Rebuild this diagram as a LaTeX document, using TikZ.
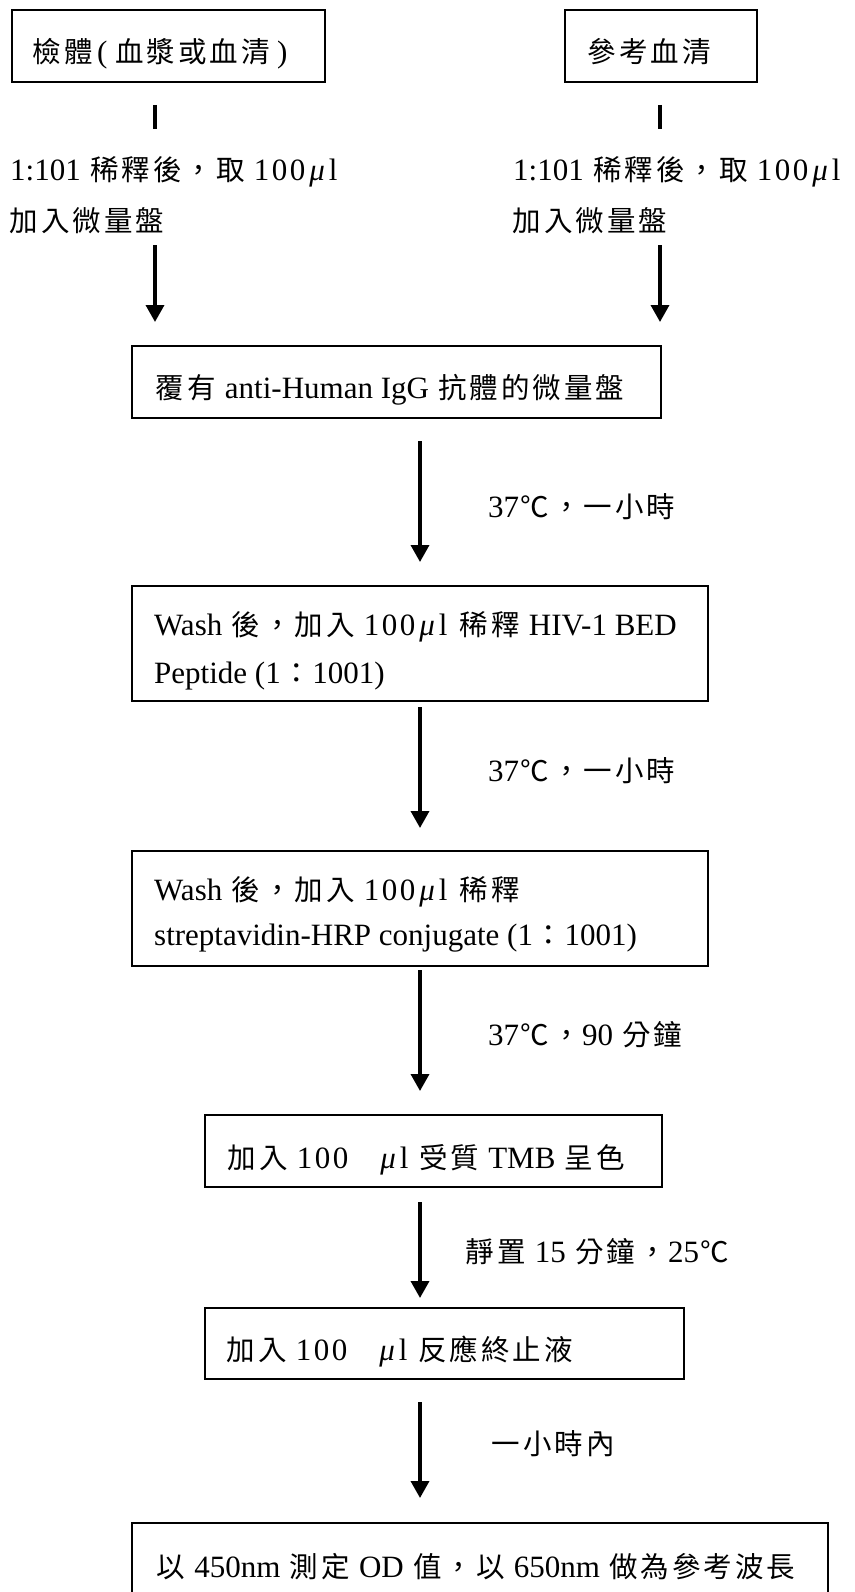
\documentclass[tikz,border=0pt]{standalone}
\usepackage{fontspec}
\setmainfont{Liberation Serif}
\newfontfamily\cjk{Noto Sans CJK TC}
\usetikzlibrary{arrows.meta}
\newcommand{\Cloop}[1]{\ifx#1\relax\else\kern1.5pt#1\kern1.5pt\expandafter\Cloop\fi}
\newcommand{\C}[1]{{\cjk\fontsize{28.5}{40}\selectfont\Cloop#1\relax}}
\newcommand{\myul}{\kern4pt\textit{μ}\kern4pt l\kern3pt}
\newcommand{\hund}{1\kern2.5pt0\kern2.5pt0}
\begin{document}
\begin{tikzpicture}[x=1pt,y=-1pt,
  box/.style={draw,line width=1.6pt,inner sep=0pt,outer sep=0pt,anchor=north west},
  txt/.style={anchor=base west,inner sep=0pt,font=\fontsize{31}{40}\selectfont},
  arr/.style={line width=3.5pt,-{Triangle[width=18pt,length=17pt]}},
  stem/.style={line width=3.5pt}]
\useasboundingbox (0,0) rectangle (854,1592);
\clip (0,0) rectangle (854,1592);
% boxes
\node[box,minimum width=313pt,minimum height=72pt] (b1) at (12,10) {};
\node[box,minimum width=192pt,minimum height=72pt] (b2) at (565,10) {};
\node[box,minimum width=529pt,minimum height=72pt] (b3) at (132,346) {};
\node[box,minimum width=576pt,minimum height=115pt] (b4) at (132,586) {};
\node[box,minimum width=576pt,minimum height=115pt] (b5) at (132,851) {};
\node[box,minimum width=457pt,minimum height=72pt] (b6) at (205,1115) {};
\node[box,minimum width=479pt,minimum height=71pt] (b7) at (205,1308) {};
\node[box,minimum width=696pt,minimum height=110pt] (b8) at (132,1523) {};
% texts
\node[txt] (t1) at (31,63) {\C{檢體}\kern3pt(\kern6pt\C{血漿或血清}\kern6pt)};
\node[txt] (t2) at (586,63) {\C{參考血清}};
\node[txt] (t3a) at (10,180) {1:101 \C{稀釋後，取} \hund\myul};
\node[txt] (t3b) at (8,231) {\C{加入微量盤}};
\node[txt] (t4a) at (513,180) {1:101 \C{稀釋後，取} \hund\myul};
\node[txt] (t4b) at (511,231) {\C{加入微量盤}};
\node[txt] (t5) at (154,398) {\C{覆有} anti-Human IgG \C{抗體的微量盤}};
\node[txt] (t6) at (488,517) {37\C{℃，一小時}};
\node[txt] (t7a) at (154,635) {Wash \C{後，加入} \hund\myul\ \C{稀釋} HIV-1 BED};
\node[txt] (t7b) at (154,683) {Peptide (1\C{：}1001)};
\node[txt] (t8) at (488,781) {37\C{℃，一小時}};
\node[txt] (t9a) at (154,900) {Wash \C{後，加入} \hund\myul\ \C{稀釋}};
\node[txt] (t9b) at (154,945) {streptavidin-HRP conjugate (1\C{：}1001)};
\node[txt] (t10) at (488,1045) {37\C{℃，}90 \C{分鐘}};
\node[txt] (t11) at (226,1168) {\C{加入} \hund\hspace{0.9em}\myul\kern6pt\C{受質} TMB \C{呈色}};
\node[txt] (t12) at (464,1262) {\C{靜置} 15 \C{分鐘，}25\C{℃}};
\node[txt] (t13) at (225,1360) {\C{加入} \hund\hspace{0.9em}\myul\kern6pt\C{反應終止液}};
\node[txt] (t14) at (490,1454) {\C{一小時內}};
\node[txt] (t15) at (155,1577) {\C{以} 450nm \C{測定} OD \C{值，以} 650nm \C{做為參考波長}};
% connector ends
\coordinate (s1a) at (155,105); \coordinate (s1b) at (155,129);
\coordinate (s2a) at (660,105); \coordinate (s2b) at (660,129);
\coordinate (a1s) at (155,245); \coordinate (a1e) at (155,322);
\coordinate (a2s) at (660,245); \coordinate (a2e) at (660,322);
\coordinate (a3s) at (420,441); \coordinate (a3e) at (420,562);
\coordinate (a4s) at (420,707); \coordinate (a4e) at (420,828);
\coordinate (a5s) at (420,970); \coordinate (a5e) at (420,1091);
\coordinate (a6s) at (420,1202); \coordinate (a6e) at (420,1298);
\coordinate (a7s) at (420,1402); \coordinate (a7e) at (420,1498);
\draw[stem] (s1a) -- (s1b);
\draw[stem] (s2a) -- (s2b);
\draw[arr] (a1s) -- (a1e);
\draw[arr] (a2s) -- (a2e);
\draw[arr] (a3s) -- (a3e);
\draw[arr] (a4s) -- (a4e);
\draw[arr] (a5s) -- (a5e);
\draw[arr] (a6s) -- (a6e);
\draw[arr] (a7s) -- (a7e);
\end{tikzpicture}
\end{document}
